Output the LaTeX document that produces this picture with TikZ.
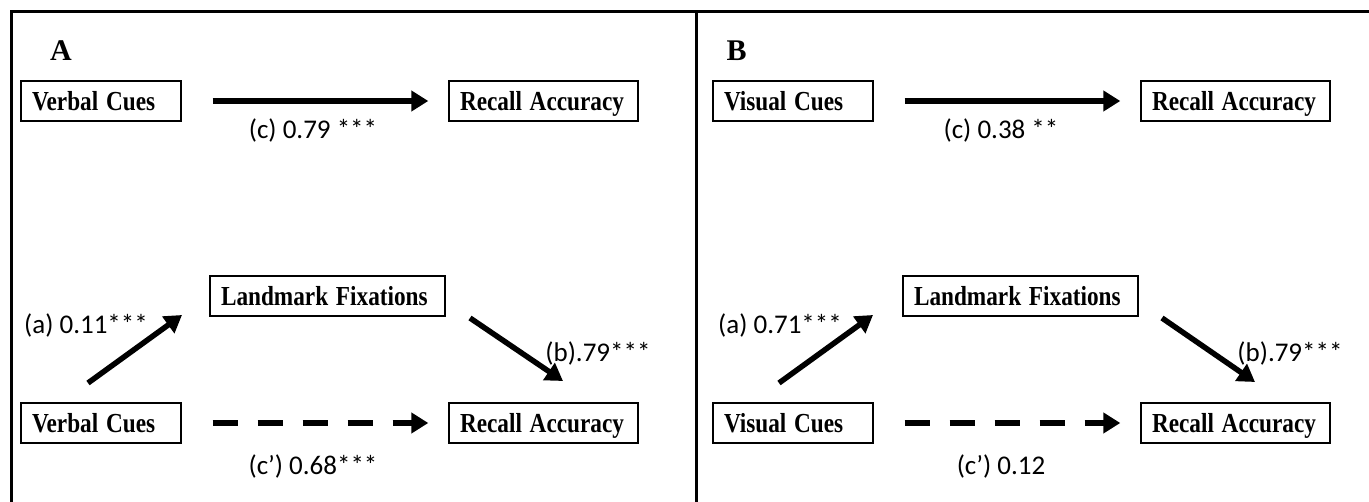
\documentclass[tikz,border=0pt]{standalone}
\usepackage{fontspec}
\setmainfont{Liberation Serif}
\newfontfamily\lblfont{Carlito}
\usetikzlibrary{arrows.meta}
\newcommand{\bxt}[1]{\scalebox{0.93}[1.1]{#1}}
\tikzset{
  frame/.style={line width=3pt, line cap=rect},
  box/.style={draw, line width=1.4pt, minimum height=40pt, inner xsep=11pt,
    text height=25pt, text depth=6pt,
    align=left, font=\fontsize{25}{28}\selectfont\bfseries},
  panel/.style={font=\fontsize{30}{32}\selectfont\bfseries},
  coef/.style={font=\lblfont\fontsize{27}{29}\selectfont},
  arr/.style={line width=5.5pt, -{Triangle[length=17pt,width=20pt]}},
  darr/.style={line width=6pt, dash pattern=on 25pt off 20pt, -{Triangle[length=17pt,width=20pt]}},
}
\begin{document}
\begin{tikzpicture}[x=1pt,y=-1pt]
\useasboundingbox (0,0) rectangle (1369,502);
\draw[frame] (11,510) -- (11,12) -- (1375,12);
\draw[frame] (696,12) -- (696,510);
\node[panel] (labA) at (61,51) {A};
\node[panel] (labB) at (736.5,51) {B};
% Panel A
\begin{scope}
\node[box, text width=138pt] (vc1) at (101,101) {\bxt{Verbal Cues}};
\node[box, text width=167pt] (ra1) at (543.5,101) {\bxt{Recall Accuracy}};
\node[box, text width=213pt] (lf) at (327.5,296) {\bxt{Landmark Fixations}};
\node[box, text width=138pt] (vc2) at (101,423) {\bxt{Verbal Cues}};
\node[box, text width=167pt] (ra2) at (543.5,423) {\bxt{Recall Accuracy}};
\draw[arr, shorten <=31pt, shorten >=20pt] (vc1) -- (ra1);
\draw[darr, shorten <=31pt, shorten >=20pt] (vc2) -- (ra2);
\coordinate (a1) at (88,383); \coordinate (a2) at (182,315);
\coordinate (b1) at (470,318); \coordinate (b2) at (563,381);
\draw[arr] (a1) -- (a2);
\draw[arr] (b1) -- (b2);
\node[coef] (c1) at (313,131) {(c) 0.79 ***};
\node[coef] (aa) at (86,325) {(a) 0.11***};
\node[coef] (bb) at (598,353) {(b).79***};
\node[coef] (cp) at (313,466) {(c’) 0.68***};
\end{scope}
% Panel B
\begin{scope}[xshift=692pt]
\node[box, text width=138pt] (vc1b) at (101,101) {\bxt{Visual Cues}};
\node[box, text width=167pt] (ra1b) at (543.5,101) {\bxt{Recall Accuracy}};
\node[box, text width=213pt] (lfb) at (328.5,296) {\bxt{Landmark Fixations}};
\node[box, text width=138pt] (vc2b) at (101,423) {\bxt{Visual Cues}};
\node[box, text width=167pt] (ra2b) at (543.5,423) {\bxt{Recall Accuracy}};
\draw[arr, shorten <=31pt, shorten >=20pt] (vc1b) -- (ra1b);
\draw[darr, shorten <=31pt, shorten >=20pt] (vc2b) -- (ra2b);
\coordinate (a1b) at (87,383); \coordinate (a2b) at (181,315);
\coordinate (b1b) at (470,318); \coordinate (b2b) at (563,382);
\draw[arr] (a1b) -- (a2b);
\draw[arr] (b1b) -- (b2b);
\node[coef] (c1b) at (309,131) {(c) 0.38 **};
\node[coef] (aab) at (88,325) {(a) 0.71***};
\node[coef] (bbb) at (598,353) {(b).79***};
\node[coef] (cpb) at (309,466) {(c’) 0.12};
\end{scope}
\end{tikzpicture}
\end{document}
